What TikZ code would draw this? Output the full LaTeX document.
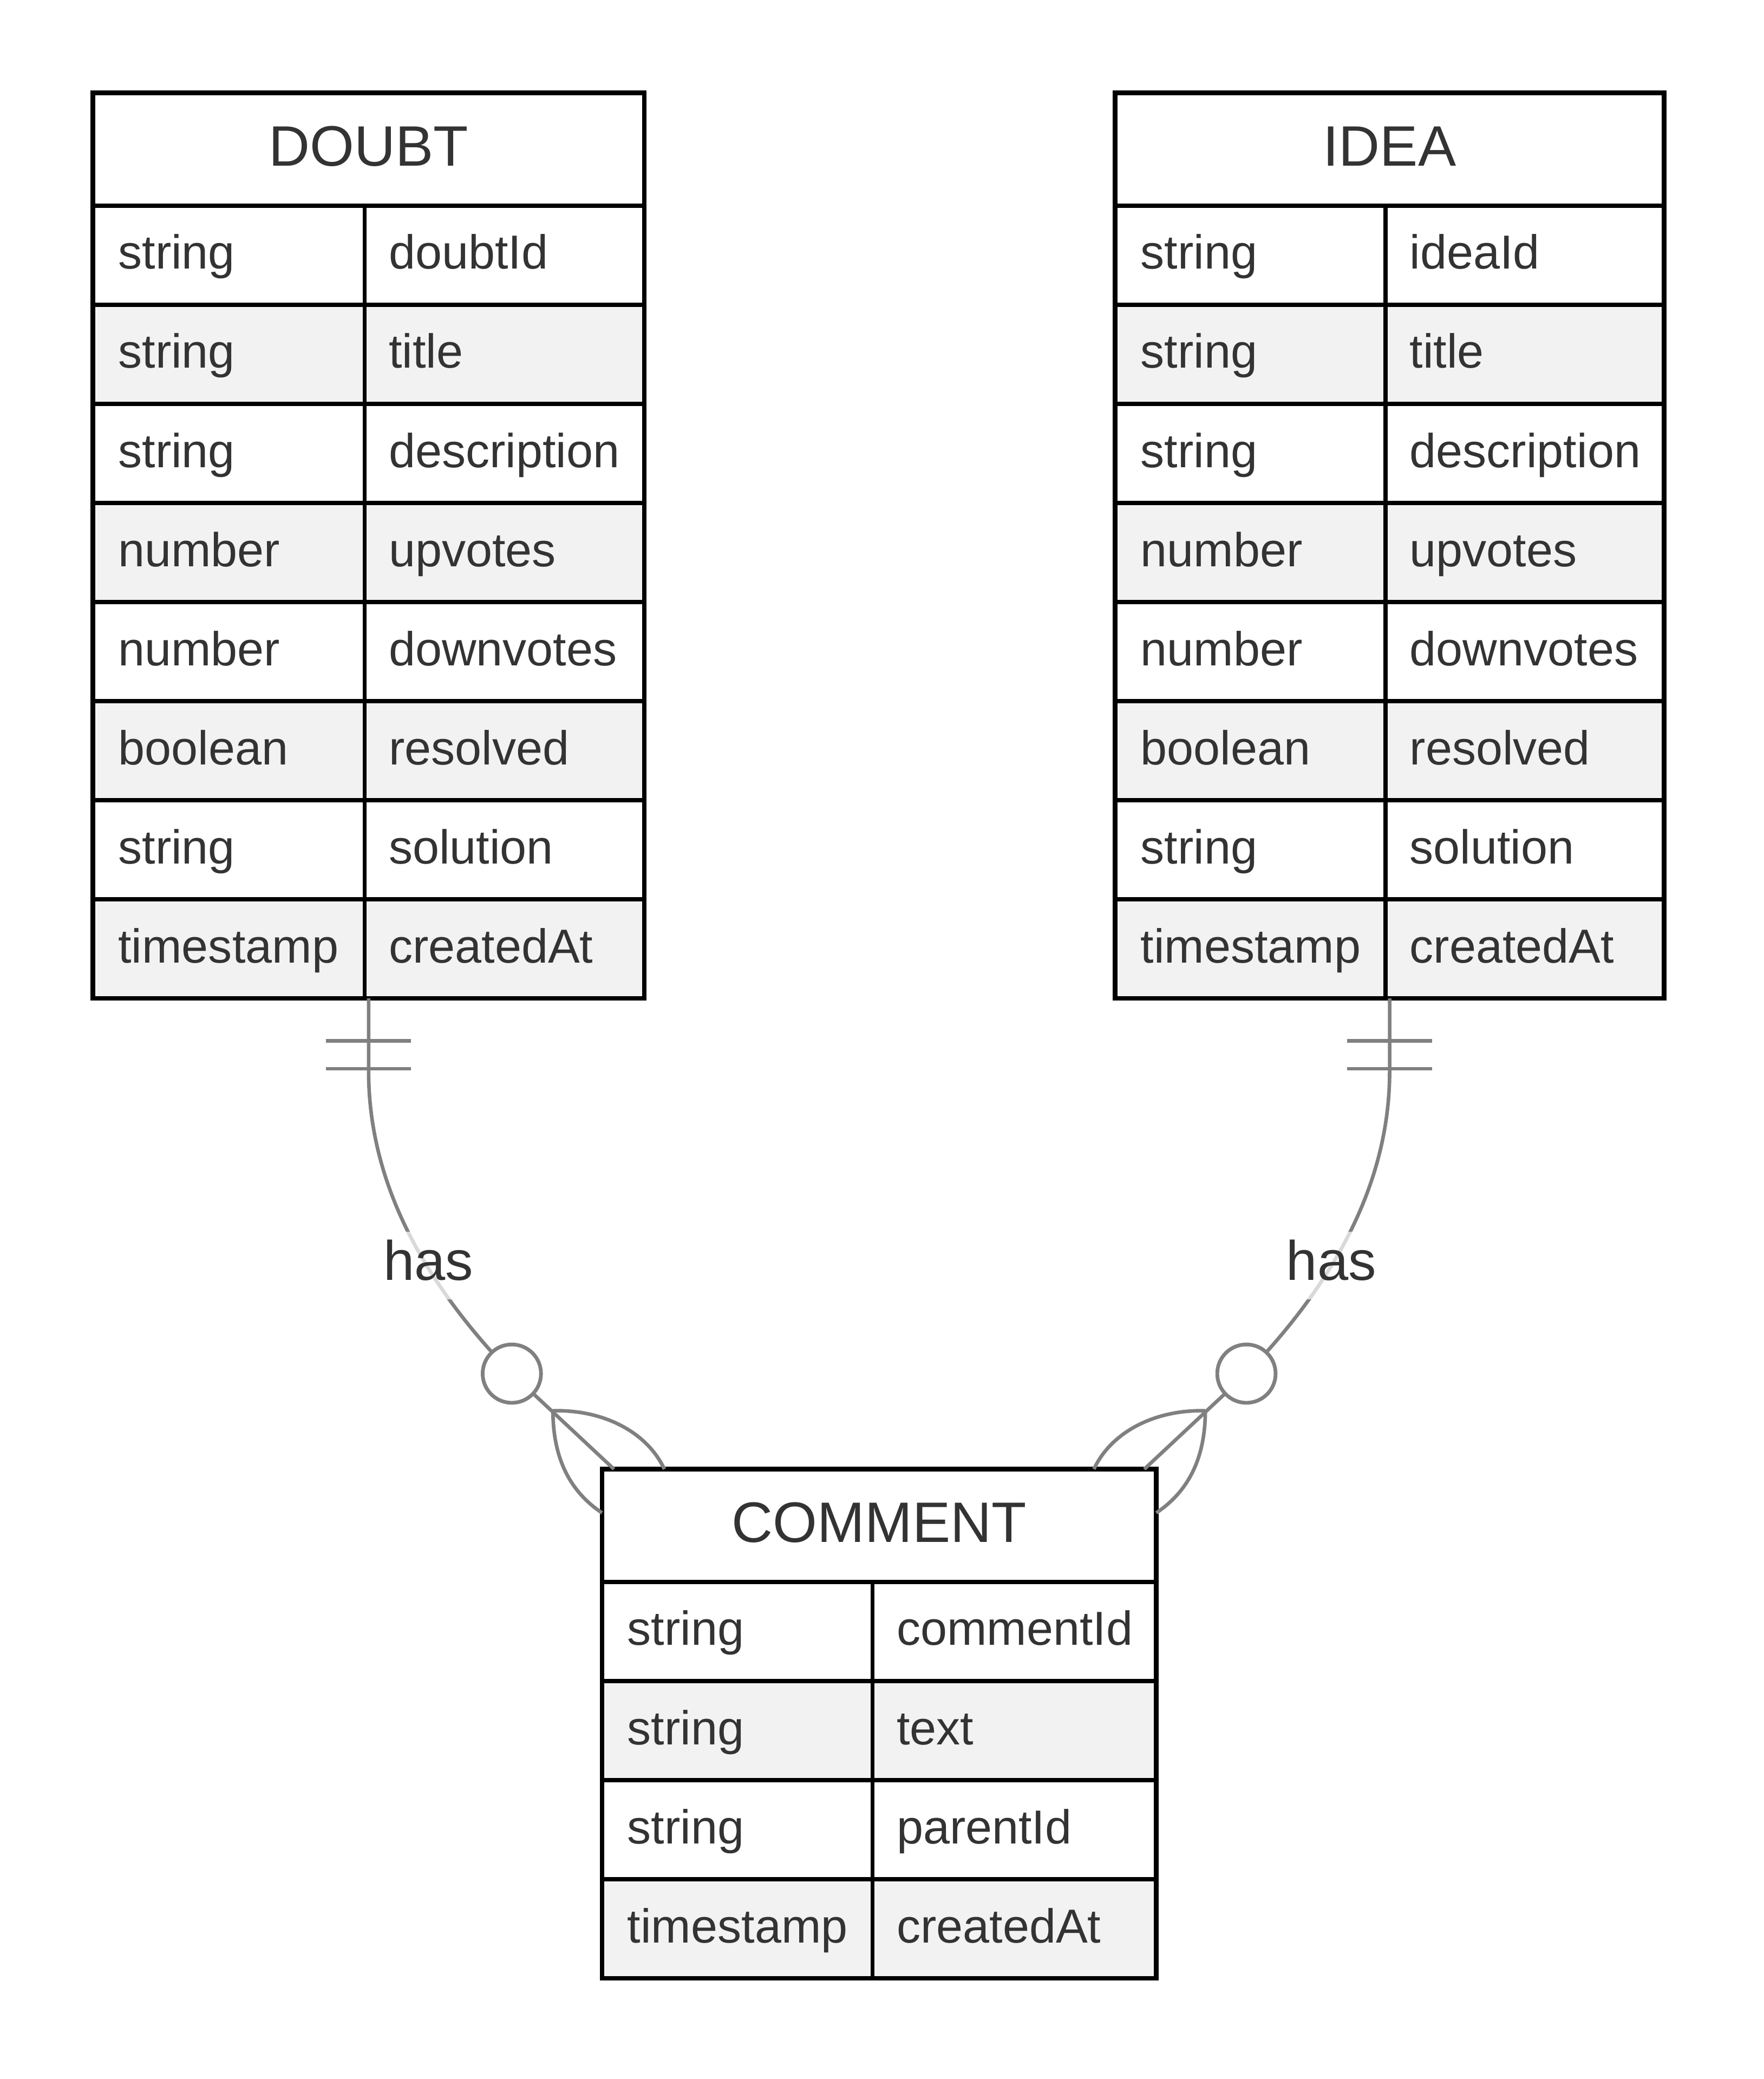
\documentclass[tikz,border=0pt]{standalone}
\usepackage{fontspec}
\setmainfont{Liberation Sans}
\usetikzlibrary{calc}
\definecolor{txt}{HTML}{333333}
\definecolor{rowgray}{HTML}{F2F2F2}
\definecolor{conn}{HTML}{808080}
\tikzset{
  gridline/.style={draw=black, line width=3.2pt},
  tablebox/.style={draw=black, line width=3.4pt, inner sep=0pt, outer sep=0pt},
  cellt/.style={font=\fontsize{36}{43}\selectfont, text=txt, inner sep=0pt},
  titlet/.style={font=\fontsize{43}{52}\selectfont, text=txt, inner sep=0pt},
  connline/.style={draw=conn, line width=2.7pt},
  ocircle/.style={circle, draw=conn, fill=white, line width=2.8pt, minimum size=44pt, inner sep=0pt},
  lbl/.style={font=\fontsize{42}{50}\selectfont, text=txt, fill=white, fill opacity=0.7, text opacity=1, inner xsep=1pt, inner ysep=0pt, text height=36.5pt, text depth=14.5pt, anchor=base}
}
% #1 name, #2 left, #3 top, #4 right, #5 divider, #6 bottom, #7 title, #8 rows
\newcommand\ertable[8]{%
  \fill[white] (#2,#3) rectangle (#4,#3+85);
  \foreach \ty/\nm [count=\i] in {#8} {
    \pgfmathsetmacro\ya{#3+85+(\i-1)*74.75}
    \pgfmathsetmacro\yb{\ya+74.75}
    \pgfmathparse{int(mod(\i,2))}
    \ifnum\pgfmathresult=0
      \fill[rowgray] (#2,\ya) rectangle (#4,\yb);
    \else
      \fill[white] (#2,\ya) rectangle (#4,\yb);
    \fi
    \draw[gridline] (#2,\ya) -- (#4,\ya);
    \draw[gridline] (#5,\ya) -- (#5,\yb);
    \node[cellt, anchor=base west] (#1-type-\i) at (#2+19,\ya+37.4+10.5) {\ty};
    \node[cellt, anchor=base west] (#1-name-\i) at (#5+18,\ya+37.4+10.5) {\nm};
  }
  \node[tablebox, minimum width={(#4-#2)*1pt}, minimum height={(#6-#3)*1pt}, anchor=north west] (#1) at (#2,#3) {};
  \node[titlet, anchor=base] (#1-title) at ({(#2+#4)/2},#3+42.5+12.7) {#7};
}
\begin{document}
\begin{tikzpicture}[x=1pt,y=-1pt]
\fill[white] (0,0) rectangle (1330,1568);
\useasboundingbox (0,0) rectangle (1330,1568);

\ertable{doubt}{70}{70}{486}{275}{753}{DOUBT}{string/doubtId,string/title,string/description,number/upvotes,number/downvotes,boolean/resolved,string/solution,timestamp/createdAt}
\ertable{idea}{841}{70}{1255}{1045}{753}{IDEA}{string/ideaId,string/title,string/description,number/upvotes,number/downvotes,boolean/resolved,string/solution,timestamp/createdAt}
\ertable{comment}{454}{1108}{872}{658}{1492}{COMMENT}{string/commentId,string/text,string/parentId,timestamp/createdAt}

% left relation DOUBT -> COMMENT
\coordinate (oL) at (386,1036);
\coordinate (mL) at (417,1064);
\coordinate (ceL) at ($(comment.north west)+(9,0)$);
\coordinate (p1L) at ($(comment.north west)+(47,0)$);
\coordinate (p2L) at ($(comment.north west)+(0,33)$);
\draw[connline] (doubt.south) -- ($(doubt.south)+(0,55)$) .. controls (278,900) and (328,976) .. (oL) -- (ceL);
\draw[connline] ($(doubt.south)+(-32,32)$) -- ++(64,0);
\draw[connline] ($(doubt.south)+(-32,53)$) -- ++(64,0);
\node[ocircle] (circL) at (oL) {};
\draw[connline] (mL) .. controls (455,1063) and (488,1080) .. (p1L);
\draw[connline] (mL) .. controls (417,1100) and (430,1125) .. (p2L);
\node[lbl] (hasL) at (323,965.5) {has};

% right relation IDEA -> COMMENT
\coordinate (oR) at (940,1036);
\coordinate (mR) at (909,1064);
\coordinate (ceR) at ($(comment.north east)+(-9,0)$);
\coordinate (p1R) at ($(comment.north east)+(-47,0)$);
\coordinate (p2R) at ($(comment.north east)+(0,33)$);
\draw[connline] (idea.south) -- ($(idea.south)+(0,55)$) .. controls (1048,900) and (998,976) .. (oR) -- (ceR);
\draw[connline] ($(idea.south)+(-32,32)$) -- ++(64,0);
\draw[connline] ($(idea.south)+(-32,53)$) -- ++(64,0);
\node[ocircle] (circR) at (oR) {};
\draw[connline] (mR) .. controls (871,1063) and (838,1080) .. (p1R);
\draw[connline] (mR) .. controls (909,1100) and (896,1125) .. (p2R);
\node[lbl] (hasR) at (1004,965.5) {has};
\end{tikzpicture}
\end{document}
